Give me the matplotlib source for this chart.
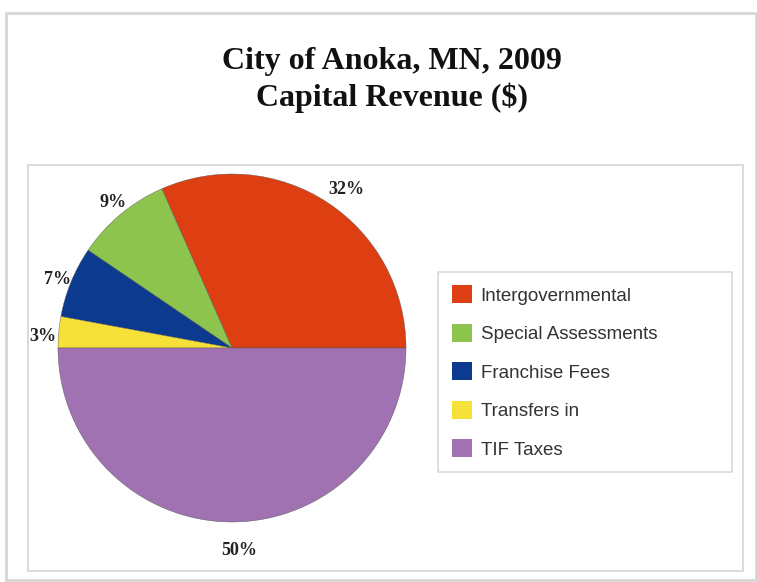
import matplotlib
matplotlib.use("Agg")
import matplotlib.pyplot as plt
import matplotlib.transforms as mtransforms
from matplotlib.patches import Rectangle, Patch

categories = ["Intergovernmental", "Special Assessments", "Franchise Fees", "Transfers in", "TIF Taxes"]
values = [31.6, 8.9, 6.6, 2.9, 50.0]
colors = ["#DE3F12", "#8CC44E", "#0B3A8E", "#F6E13A", "#A072B2"]
title_lines = ["City of Anoka, MN, 2009", "Capital Revenue ($)"]

W, H = 757, 582
dpi = 100
fig = plt.figure(figsize=(W / dpi, H / dpi), dpi=dpi)
fig.patch.set_facecolor("white")

def fx(x):
    return x / W

def fy(y):
    return 1 - y / H

# outer frame
fig.patches.append(Rectangle((fx(6), fy(580)), 750 / W, 567 / H, transform=fig.transFigure,
                             fill=False, edgecolor="#d6d6d6", linewidth=2.0))
# inner plot area frame
fig.patches.append(Rectangle((fx(28), fy(571)), (743 - 28) / W, (571 - 165) / H, transform=fig.transFigure,
                             fill=False, edgecolor="#dcdcdc", linewidth=1.5))

# title
fig.text(fx(392), fy(62), title_lines[0], ha="center", va="center",
         family="Liberation Serif", fontweight="bold", fontsize=23, color="#111111")
fig.text(fx(392), fy(98), title_lines[1], ha="center", va="center",
         family="Liberation Serif", fontweight="bold", fontsize=23, color="#111111")

# pie axes
cx, cy, R = 232, 348, 174
half = 215
ax = fig.add_axes([fx(cx - half), (H - cy - half) / H, 2 * half / W, 2 * half / H])
wedges, texts, autotexts = ax.pie(values, colors=colors, startangle=0, counterclock=True,
                                  autopct=lambda p: f"{p:.0f}%", pctdistance=1.13,
                                  wedgeprops=dict(linewidth=0.3, edgecolor="#555555"))
shift = mtransforms.ScaledTranslation(7 / dpi, -6 / dpi, fig.dpi_scale_trans)
for t in autotexts:
    t.set_family("Liberation Serif")
    t.set_fontweight("bold")
    t.set_fontsize(13)
    t.set_color("#222222")
    t.set_transform(t.get_transform() + shift)
lim = half / R
ax.set_xlim(-lim, lim)
ax.set_ylim(-lim, lim)
ax.set_aspect("equal")
ax.axis("off")

# legend
handles = [Patch(facecolor=c, edgecolor="none") for c in colors]
leg = fig.legend(handles, categories, loc="upper left",
                 bbox_to_anchor=(fx(438), fy(462), (732 - 438) / W, (462 - 272) / H),
                 mode="expand", frameon=True, fancybox=False,
                 prop=dict(family="Liberation Sans", size=13.5),
                 handlelength=1.1, handleheight=1.1, labelspacing=1.02,
                 handletextpad=0.45, borderpad=0.72, borderaxespad=0)
leg.get_frame().set_edgecolor("#d0d0d0")
leg.get_frame().set_linewidth(1.2)
for t in leg.get_texts():
    t.set_color("#333333")

fig.savefig("out.png", dpi=dpi)
